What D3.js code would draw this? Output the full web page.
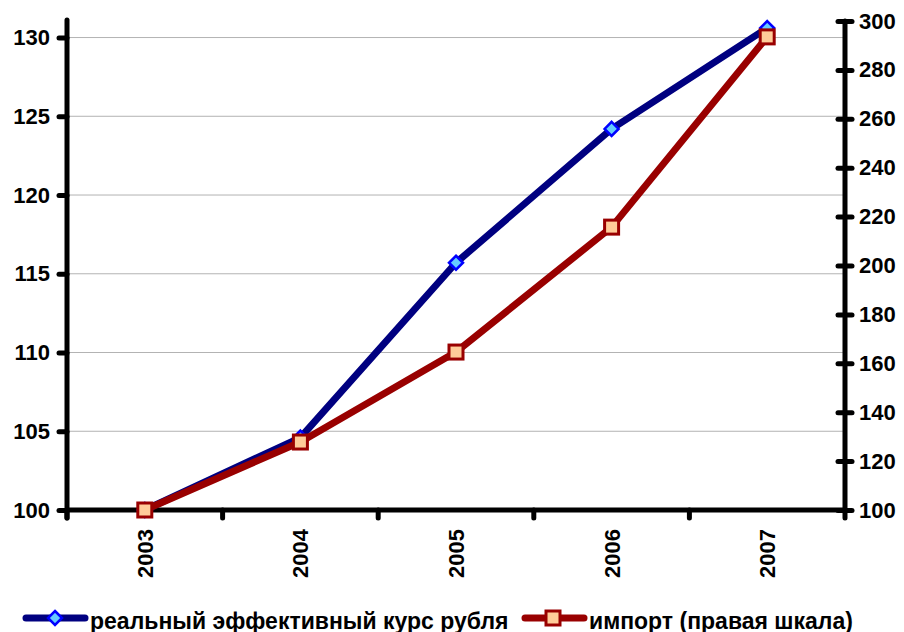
<!DOCTYPE html>
<html>
<head>
<meta charset="utf-8">
<script src="https://cdnjs.cloudflare.com/ajax/libs/d3/7.8.5/d3.min.js"></script>
<style>
body { margin: 0; background: #fff; }
text { font-family: "Liberation Sans", Arial, sans-serif; font-weight: 700; fill: #000; }
</style>
</head>
<body>
<div id="chart"></div>
<script>
// data
var years = ["2003", "2004", "2005", "2006", "2007"];
var rateValues = [100, 104.6, 115.7, 124.2, 130.6];   // реальный эффективный курс рубля
var importValues = [100, 127.8, 164.6, 215.7, 293.5]; // импорт (правая шкала)
var leftTicks = [100, 105, 110, 115, 120, 125, 130];
var rightTicks = [100, 120, 140, 160, 180, 200, 220, 240, 260, 280, 300];
var legendLabels = ["реальный эффективный курс рубля", "импорт (правая шкала)"];

var w = 904, h = 632;
var pLeft = 67, pRight = 845, pTop = 21, pBottom = 510;

var svg = d3.select("#chart").append("svg")
    .attr("width", w)
    .attr("height", h);

var x = d3.scaleBand().domain(years).range([pLeft, pRight]);
var yL = d3.scaleLinear().domain([100, 131.05]).range([pBottom, pTop]);
var yR = d3.scaleLinear().domain([100, 300]).range([pBottom, pTop]);

// grid lines
svg.selectAll("line.grid")
    .data(leftTicks.slice(1))
    .enter().append("line")
    .attr("x1", pLeft).attr("x2", pRight)
    .attr("y1", function(d) { return yL(d); })
    .attr("y2", function(d) { return yL(d); })
    .attr("stroke", "#b3b3b3")
    .attr("stroke-width", 1);

// left axis
var gL = svg.append("g").attr("transform", "translate(" + pLeft + ",0)");
gL.call(d3.axisLeft(yL).tickValues(leftTicks).tickSize(8).tickPadding(9).tickFormat(d3.format("d")));
// right axis
var gR = svg.append("g").attr("transform", "translate(" + pRight + ",0)");
gR.call(d3.axisRight(yR).tickValues(rightTicks).tickSize(7).tickPadding(7).tickFormat(d3.format("d")));
gR.selectAll(".tick line").attr("x1", -7);

[gL, gR].forEach(function(g) {
    g.attr("font-family", null).attr("font-size", null);
    g.select(".domain").remove();
    g.selectAll(".tick line").attr("stroke", "#000").attr("stroke-width", 5).attr("stroke-linecap", "round");
    g.selectAll(".tick text").attr("fill", "#000").style("font-size", "22px");
});

// x axis (ticks between categories)
var xTicks = years.map(function(d) { return x(d); }).concat([pRight]);
svg.selectAll("line.xtick")
    .data(xTicks)
    .enter().append("line")
    .attr("x1", function(d) { return d; })
    .attr("x2", function(d) { return d; })
    .attr("y1", pBottom)
    .attr("y2", pBottom + 8)
    .attr("stroke", "#000")
    .attr("stroke-width", 5)
    .attr("stroke-linecap", "round");

svg.selectAll("text.year")
    .data(years)
    .enter().append("text")
    .attr("class", "year")
    .attr("transform", function(d) {
        return "translate(" + (x(d) + x.bandwidth() / 2 + 8) + "," + (pBottom + 19) + ") rotate(-90)";
    })
    .attr("text-anchor", "end")
    .style("font-size", "22px")
    .text(function(d) { return d; });

// axis lines
svg.append("line").attr("x1", pLeft).attr("x2", pLeft).attr("y1", pTop - 1).attr("y2", pBottom + 8)
    .attr("stroke", "#000").attr("stroke-width", 5).attr("stroke-linecap", "round");
svg.append("line").attr("x1", pRight).attr("x2", pRight).attr("y1", pTop).attr("y2", pBottom)
    .attr("stroke", "#000").attr("stroke-width", 5).attr("stroke-linecap", "round");
svg.append("line").attr("x1", pLeft).attr("x2", pRight).attr("y1", pBottom).attr("y2", pBottom)
    .attr("stroke", "#000").attr("stroke-width", 5);

function cx(i) { return x(years[i]) + x.bandwidth() / 2; }

var lineL = d3.line().x(function(d, i) { return cx(i); }).y(function(d) { return yL(d); });
var lineR = d3.line().x(function(d, i) { return cx(i); }).y(function(d) { return yR(d); });

svg.append("path").datum(rateValues).attr("d", lineL)
    .attr("fill", "none").attr("stroke", "#000080").attr("stroke-width", 7).attr("stroke-linejoin", "round");
svg.append("path").datum(importValues).attr("d", lineR)
    .attr("fill", "none").attr("stroke", "#990000").attr("stroke-width", 7).attr("stroke-linejoin", "round");

function diamond(g, px, py) {
    g.append("path")
        .attr("d", "M" + px + "," + (py - 7) + "L" + (px + 7) + "," + py + "L" + px + "," + (py + 7) + "L" + (px - 7) + "," + py + "Z")
        .attr("fill", "#66ccff").attr("stroke", "#0000ff").attr("stroke-width", 2.5);
}
function square(g, px, py) {
    g.append("rect")
        .attr("x", px - 7).attr("y", py - 7).attr("width", 14).attr("height", 14)
        .attr("fill", "#ffcc99").attr("stroke", "#990000").attr("stroke-width", 3);
}

rateValues.forEach(function(d, i) { diamond(svg, cx(i), yL(d)); });
importValues.forEach(function(d, i) { square(svg, cx(i), yR(d)); });

// legend
var ly = 618;
svg.append("line").attr("x1", 26).attr("x2", 85).attr("y1", ly).attr("y2", ly)
    .attr("stroke", "#000080").attr("stroke-width", 7).attr("stroke-linecap", "round");
diamond(svg, 55, ly);
svg.append("text").attr("x", 90).attr("y", ly + 11).style("font-size", "23px").text(legendLabels[0]);

svg.append("line").attr("x1", 525).attr("x2", 584).attr("y1", ly).attr("y2", ly)
    .attr("stroke", "#990000").attr("stroke-width", 7).attr("stroke-linecap", "round");
square(svg, 553, ly);
svg.append("text").attr("x", 589).attr("y", ly + 11).style("font-size", "23px").text(legendLabels[1]);
</script>
</body>
</html>
